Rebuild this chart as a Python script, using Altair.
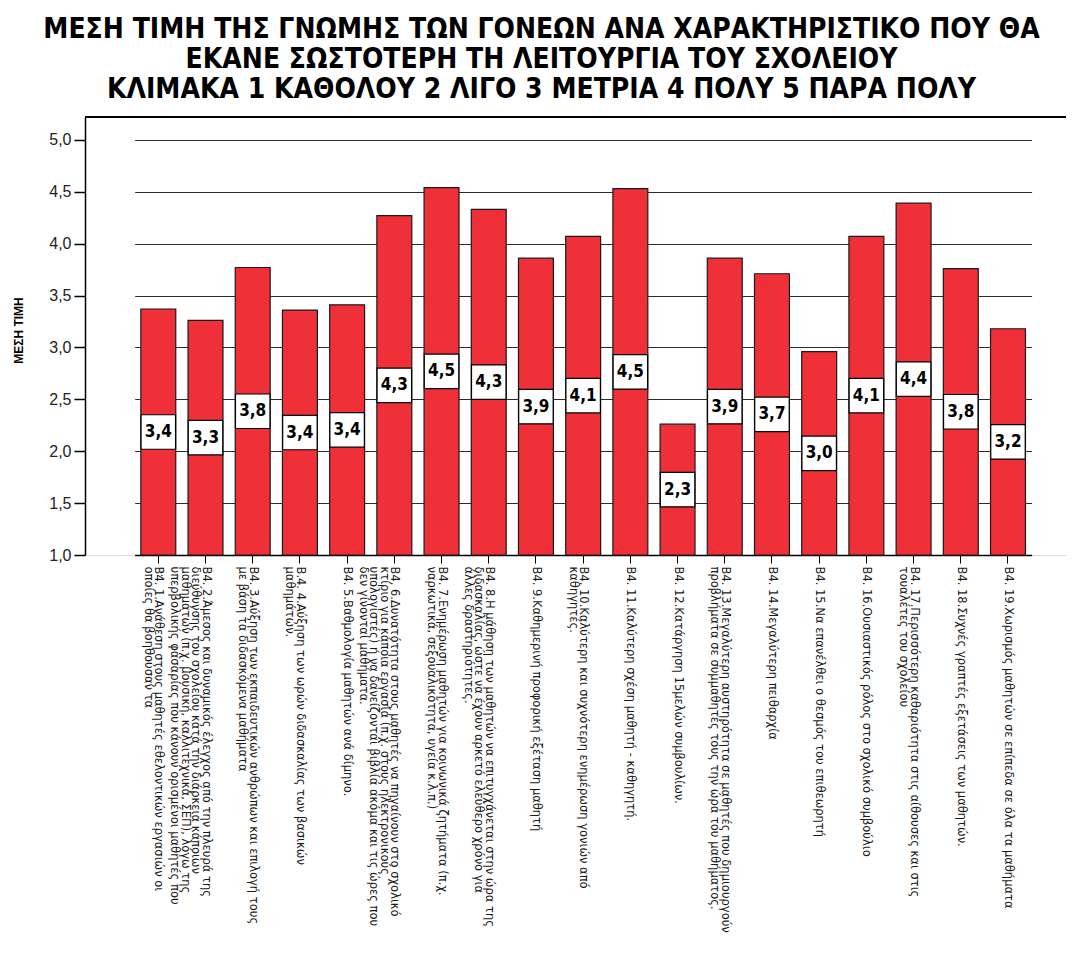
import altair as alt
import pandas as pd

items = [
    "B4. 1.Ανάθεση στους μαθητές εθελοντικών εργασιών οι|οποίες θα βοηθούσαν τα",
    "B4. 2.Άμεσος και δυναμικός έλεγχος από την πλευρά της|διεύθυνσης του σχολείου κατά την διάρκεια κάποιων|μαθημάτων (π.χ. μουσική, καλλιτεχνικά, ΣΕΠ), λόγω της|υπερβολικής φασαρίας που κάνουν ορισμένοι μαθητές που|...",
    "B4. 3.Αύξηση των εκπαιδευτικών ανθρώπων και επιλογή τους|με βάση τα διδασκόμενα μαθήματα",
    "B.4. 4.Αύξηση των ωρών διδασκαλίας των βασικών|μαθημάτων.",
    "B4. 5.Βαθμολογία μαθητών ανά δίμηνο.",
    "B4. 6.Δυνατότητα στους μαθητές να πηγαίνουν στο σχολικό|κτίριο για κάποια εργασία (π.χ. στους ηλεκτρονικούς|υπολογιστές) ή να δανείζονται βιβλία ακόμα και τις ώρες που|δεν γίνονται μαθήματα.",
    "B4. 7.Ενημέρωση μαθητών για κοινωνικά ζητήματα (π.χ.|ναρκωτικά, σεξουαλικότητα, υγεία κ.λ.π.)",
    "B4. 8.Η μάθηση των μαθητών να επιτυγχάνεται στην ώρα της|διδασκαλίας, ώστε να έχουν αρκετό ελεύθερο χρόνο για|άλλες δραστηριότητες.",
    "B4. 9.Καθημερινή προφορική εξέταση μαθητή",
    "B4. 10.Καλύτερη και συχνότερη ενημέρωση γονιών από|καθηγητές.",
    "B4. 11.Καλύτερη σχέση μαθητή - καθηγητή.",
    "B4. 12.Κατάργηση 15μελών συμβουλίων.",
    "B4. 13.Μεγαλύτερη αυστηρότητα σε μαθητές που δημιουργούν|προβλήματα σε συμμαθητές τους την ώρα του μαθήματος.",
    "B4. 14.Μεγαλύτερη πειθαρχία",
    "B4. 15.Να επανέλθει ο θεσμός του επιθεωρητή",
    "B4. 16.Ουσιαστικός ρόλος στο σχολικό συμβούλιο",
    "B4. 17.Περισσότερη καθαριότητα στις αίθουσες και στις|τουαλέτες του σχολείου",
    "B4. 18.Συχνές γραπτές εξετάσεις των μαθητών.",
    "B4. 19.Χωρισμός μαθητών σε επίπεδα σε όλα τα μαθήματα",
]
means = [3.37, 3.26, 3.77, 3.36, 3.41, 4.27, 4.54, 4.33, 3.86, 4.07,
         4.53, 2.26, 3.86, 3.71, 2.96, 4.07, 4.39, 3.76, 3.18]
value_labels = ["3,4", "3,3", "3,8", "3,4", "3,4", "4,3", "4,5", "4,3", "3,9", "4,1",
                "4,5", "2,3", "3,9", "3,7", "3,0", "4,1", "4,4", "3,8", "3,2"]

title_lines = [
    "ΜΕΣΗ ΤΙΜΗ ΤΗΣ ΓΝΩΜΗΣ ΤΩΝ ΓΟΝΕΩΝ ΑΝΑ ΧΑΡΑΚΤΗΡΙΣΤΙΚΟ ΠΟΥ ΘΑ",
    "ΕΚΑΝΕ ΣΩΣΤΟΤΕΡΗ ΤΗ ΛΕΙΤΟΥΡΓΙΑ ΤΟΥ ΣΧΟΛΕΙΟΥ",
    "ΚΛΙΜΑΚΑ 1 ΚΑΘΟΛΟΥ 2 ΛΙΓΟ 3 ΜΕΤΡΙΑ 4 ΠΟΛΥ 5 ΠΑΡΑ ΠΟΛΥ",
]

df = pd.DataFrame({"item": items, "mean": means, "lab": value_labels})
df["base"] = 1.0
df["mid"] = (1.0 + df["mean"]) / 2

W = 981
H = 438
NARROW = "Liberation Sans Narrow, Arial Narrow, DejaVu Sans Condensed, sans-serif"
SANS = "Liberation Sans, Arial, sans-serif"

xenc = alt.X(
    "item:N", sort=items, title=None,
    scale=alt.Scale(range=[49.7, 946.6], paddingInner=0.26, paddingOuter=0.13),
    axis=alt.Axis(
        labelAngle=90, labelAlign="left", labelBaseline="middle",
        labelExpr="split(datum.label, '|')",
        labelFont="DejaVu Sans", labelFontSize=11.5, labelLineHeight=10.5, labelColor="#1a1a1a",
        labelLimit=2000, labelPadding=3, labelOverlap=False,
        tickSize=8, tickColor="black", domainColor="black", domainWidth=1.5,
        grid=False,
    ),
)
yscale = alt.Scale(domain=[1.0, 5.22], nice=False, zero=False)

bars = alt.Chart(df).mark_bar(
    color="#ef3039", stroke="#1a1a1a", strokeWidth=1.2
).encode(
    x=xenc,
    y=alt.Y("mean:Q", scale=yscale, title="ΜΕΣΗ ΤΙΜΗ",
            axis=alt.Axis(values=[1.0, 1.5, 2.0, 2.5, 3.0, 3.5, 4.0, 4.5, 5.0],
                          labelExpr="replace(format(datum.value, '.1f'), '.', ',')",
                          labelFont=SANS, labelFontSize=16, labelColor="#222",
                          labelPadding=3, tickSize=11, tickColor="black", tickWidth=1.5,
                          domainColor="black", domainWidth=1.5,
                          grid=True, gridColor="#2b2b2b", gridWidth=1.2,
                          titleFont=SANS, titleFontSize=12, titleFontWeight="bold",
                          titleColor="black", titleAngle=-90, titleX=-67, titleY=213,
                          titleAlign="center", titleBaseline="middle")),
    y2="base:Q",
)

boxes = alt.Chart(df).mark_square(
    size=1190, filled=True, color="white", stroke="black", strokeWidth=1.2, opacity=1
).encode(x=alt.X("item:N", sort=items), y=alt.Y("mid:Q", scale=yscale))

texts = alt.Chart(df).mark_text(
    font=NARROW, fontSize=17, fontWeight="bold", color="black", baseline="middle"
).encode(x=alt.X("item:N", sort=items), y=alt.Y("mid:Q", scale=yscale), text="lab:N")

top_rule = alt.Chart(df).mark_rule(color="black", strokeWidth=1.5).encode(
    x=alt.value(0), x2=alt.value(W), y=alt.value(0)
)

chart = alt.layer(bars, boxes, texts, top_rule).properties(
    width=W, height=H,
    autosize=alt.AutoSizeParams(type="none"),
    padding={"left": 77, "top": 109, "right": 0, "bottom": 390},
    title=alt.TitleParams(
        text=title_lines, font=NARROW, fontSize=28, fontWeight="bold",
        color="black", anchor="middle", frame="group", dx=-34, offset=12,
        lineHeight=30,
    ),
).configure_view(
    fill="#f0f0f0", stroke=None
).configure(background="white")

chart.save("out.html", embed_options={"renderer": "svg", "actions": False})
